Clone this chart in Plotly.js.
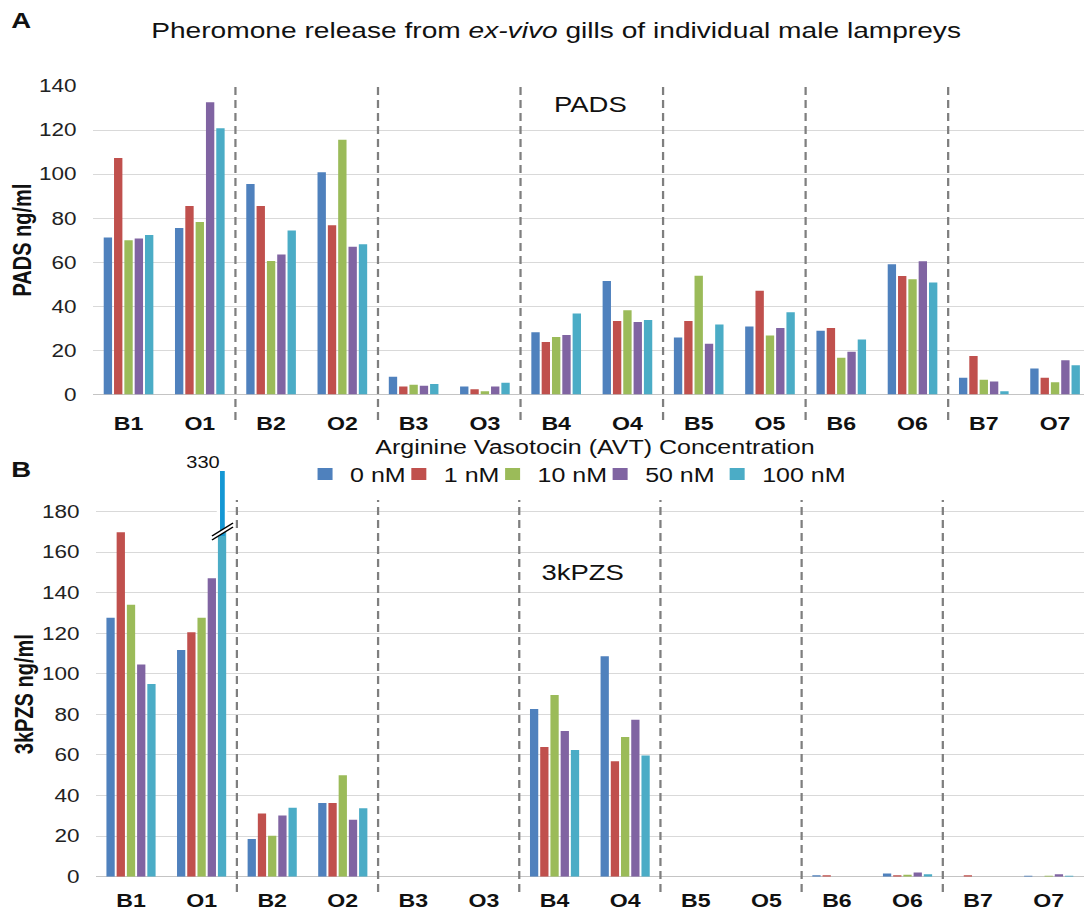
<!DOCTYPE html>
<html>
<head>
<meta charset="utf-8">
<script src="https://cdn.plot.ly/plotly-3.0.1.min.js"></script>
<style>
  html, body { margin: 0; padding: 0; background: #fff; overflow: hidden; }
  #wrap { width: 1084px; height: 915px; overflow: hidden; }
  /* the figure is laid out narrow and widened horizontally */
  #chart { width: 867px; height: 915px; transform: scaleX(1.25029); transform-origin: 0 0; }
</style>
</head>
<body>
<div id="wrap"><div id="chart"></div></div>
<script>
// Sample names (B = brain-side, O = other; numbered animals)
const samples = ['B1', 'O1', 'B2', 'O2', 'B3', 'O3', 'B4', 'O4', 'B5', 'O5', 'B6', 'O6', 'B7', 'O7'];

// AVT concentrations and their colours
const concLabels = ['0 nM', '1 nM', '10 nM', '50 nM', '100 nM'];
const concColors = ['#4F81BD', '#C0504D', '#9BBB59', '#8064A2', '#4BACC6'];

// PADS release, ng/ml
const padsNM0   = [71.2, 75.6, 95.5, 100.9, 8.0, 3.6, 28.2, 51.5, 25.8, 30.9, 28.9, 59.1, 7.6, 11.8];
const padsNM1   = [107.3, 85.5, 85.5, 76.8, 3.6, 2.4, 23.8, 33.3, 33.3, 47.1, 30.2, 53.8, 17.4, 7.6];
const padsNM10  = [70.0, 78.3, 60.6, 115.6, 4.4, 1.4, 26.1, 38.2, 53.9, 26.8, 16.7, 52.3, 6.7, 5.5];
const padsNM50  = [70.8, 132.6, 63.5, 67.0, 3.9, 3.6, 27.0, 32.9, 23.0, 30.2, 19.4, 60.5, 5.9, 15.5];
const padsNM100 = [72.4, 120.8, 74.4, 68.2, 4.8, 5.3, 36.8, 33.8, 31.7, 37.3, 25.0, 50.8, 1.5, 13.2];

// 3kPZS release, ng/ml
const kpzsNM0   = [127.7, 111.8, 18.6, 36.3, 0, 0, 82.7, 108.7, 0, 0, 0.7, 1.5, 0, 0.5];
const kpzsNM1   = [169.8, 120.5, 31.2, 36.3, 0, 0, 63.9, 56.9, 0, 0, 0.7, 0.7, 0.7, 0];
const kpzsNM10  = [134.1, 127.7, 20.2, 50.0, 0, 0, 89.6, 68.9, 0, 0, 0, 1.0, 0, 0.5];
const kpzsNM50  = [104.6, 147.1, 30.2, 28.1, 0, 0, 71.8, 77.4, 0, 0, 0, 2.1, 0, 1.2];
const kpzsNM100 = [95.0, 330, 34.0, 33.7, 0, 0, 62.5, 59.8, 0, 0, 0, 1.2, 0, 0.5];

// y-axis ticks
const padsTicks = [0, 20, 40, 60, 80, 100, 120, 140];
const kpzsTicks = [0, 20, 40, 60, 80, 100, 120, 140, 160, 180];

const padsSeries = [padsNM0, padsNM1, padsNM10, padsNM50, padsNM100];
const kpzsSeries = [kpzsNM0, kpzsNM1, kpzsNM10, kpzsNM50, kpzsNM100];

const FONT = 'Liberation Sans, Arial, sans-serif';
const legendWidths = [30, 30, 41, 48.6, 67];

const traces = [];
concLabels.forEach((lab, i) => {
  traces.push({
    type: 'bar', x: samples, y: padsSeries[i], name: lab,
    xaxis: 'x', yaxis: 'y', legendgroup: lab, legendwidth: legendWidths[i],
    marker: { color: concColors[i] }, hoverinfo: 'skip'
  });
});
concLabels.forEach((lab, i) => {
  traces.push({
    type: 'bar', x: samples, y: kpzsSeries[i], name: lab,
    xaxis: 'x2', yaxis: 'y2', legendgroup: lab, showlegend: false,
    marker: { color: concColors[i] }, hoverinfo: 'skip'
  });
});

// separators between animal pairs
const pairEdges = [1.5, 3.5, 5.5, 7.5, 9.5, 11.5];
const dashStyle = { color: '#7F7F7F', width: 1.8, dash: '8px,5px' };
const shapes = [];
pairEdges.forEach(e => {
  shapes.push({ type: 'line', xref: 'x', yref: 'paper', x0: e, x1: e, y0: 0.5410, y1: 0.9093, line: dashStyle });
  shapes.push({ type: 'line', xref: 'x2', yref: 'paper', x0: e, x1: e, y0: 0.0251, y1: 0.4536, line: dashStyle });
});

// broken-axis marker on the off-scale O1 / 100 nM bar
const slot = (1 - 0.276) / 5;
const offX = 1 + 2 * slot;
shapes.push({ type: 'rect', xref: 'x2', yref: 'y2', x0: offX - 0.075, x1: offX + 0.075, y0: 170, y1: 200,
  fillcolor: '#ffffff', line: { width: 0 } });
shapes.push({ type: 'line', xref: 'x2', yref: 'y2', x0: offX + 0.005, x1: offX + 0.005, y0: 168, y1: 200,
  line: { color: '#1497D4', width: 3.8 } });
shapes.push({ type: 'line', xref: 'x2', yref: 'y2', x0: 1.147, x1: 1.445, y0: 167.0, y1: 173.4,
  line: { color: '#ffffff', width: 3.5 } });
shapes.push({ type: 'line', xref: 'x2', yref: 'y2', x0: 1.147, x1: 1.445, y0: 166.0, y1: 172.4,
  line: { color: '#000000', width: 1.3 } });
shapes.push({ type: 'line', xref: 'x2', yref: 'y2', x0: 1.147, x1: 1.445, y0: 168.0, y1: 174.4,
  line: { color: '#000000', width: 1.3 } });

const ann = (text, x, y, size, extra) => Object.assign({
  text: text, x: x, y: y, xref: 'paper', yref: 'paper', showarrow: false,
  xanchor: 'center', yanchor: 'middle', font: { family: FONT, size: size, color: '#111' }
}, extra || {});

const annotations = [
  ann('<b>A</b>', 0.0194, 0.978, 22),
  ann('<b>B</b>', 0.0194, 0.4869, 22),
  ann('PADS', 0.544, 0.8863, 22),
  ann('3kPZS', 0.538, 0.3738, 22),
  ann('Arginine Vasotocin (AVT) Concentration', 0.549, 0.5115, 20),
  ann('<b>PADS ng/ml</b>', 0.0203, 0.7377, 20, { textangle: -90 }),
  ann('<b>3kPZS ng/ml</b>', 0.0221, 0.2415, 20, { textangle: -90 }),
  ann(String(kpzsNM100[1]), offX, 0.495, 16, { xref: 'x2', xanchor: 'right' })
];

const catAxis = (domain, range, anchor, standoff) => ({
  domain: domain, range: range, anchor: anchor, type: 'category',
  showgrid: false, showline: false, zeroline: false, ticks: '',
  tickfont: { family: FONT, size: 18.5, color: '#111', weight: 700 },
  ticklabelstandoff: standoff, fixedrange: true
});
const valAxis = (domain, range, anchor, ticks) => ({
  domain: domain, range: range, anchor: anchor, tickvals: ticks,
  showgrid: true, gridcolor: '#D9D9D9', gridwidth: 1,
  zeroline: true, zerolinecolor: '#C4C4C4', zerolinewidth: 1.5,
  showline: false, ticks: '', tickfont: { family: FONT, size: 18, color: '#222' },
  ticklabelstandoff: 12, fixedrange: true
});

const layout = {
  width: 867, height: 915, autosize: false,
  margin: { l: 0, r: 0, t: 0, b: 0 },
  paper_bgcolor: '#ffffff', plot_bgcolor: '#ffffff',
  font: { family: FONT, color: '#111' },
  barmode: 'group', bargap: 0.276, bargroupgap: 0.19,
  title: {
    text: 'Pheromone release from <i>ex-vivo</i> gills of individual male lampreys',
    font: { family: FONT, size: 22.5, color: '#111' },
    x: 0.513, xref: 'paper', xanchor: 'center', y: 0.967, yref: 'container', yanchor: 'middle'
  },
  xaxis: catAxis([0.0857, 1], [-0.5, 13.406], 'y', 16),
  yaxis: valAxis([0.5689, 0.9060], [0, 140], 'x', padsTicks),
  xaxis2: catAxis([0.0883, 1], [-0.5, 13.5], 'y2', 11),
  yaxis2: valAxis([0.0419, 0.4852], [0, 200], 'x2', kpzsTicks),
  showlegend: true,
  legend: {
    orientation: 'h', x: 0.2768, xanchor: 'left', y: 0.482, yanchor: 'middle',
    font: { family: FONT, size: 20, color: '#111' }, bgcolor: 'rgba(0,0,0,0)',
    itemwidth: 30, traceorder: 'normal'
  },
  shapes: shapes,
  annotations: annotations
};

Plotly.newPlot('chart', traces, layout, { displayModeBar: false, staticPlot: true });
</script>
</body>
</html>
